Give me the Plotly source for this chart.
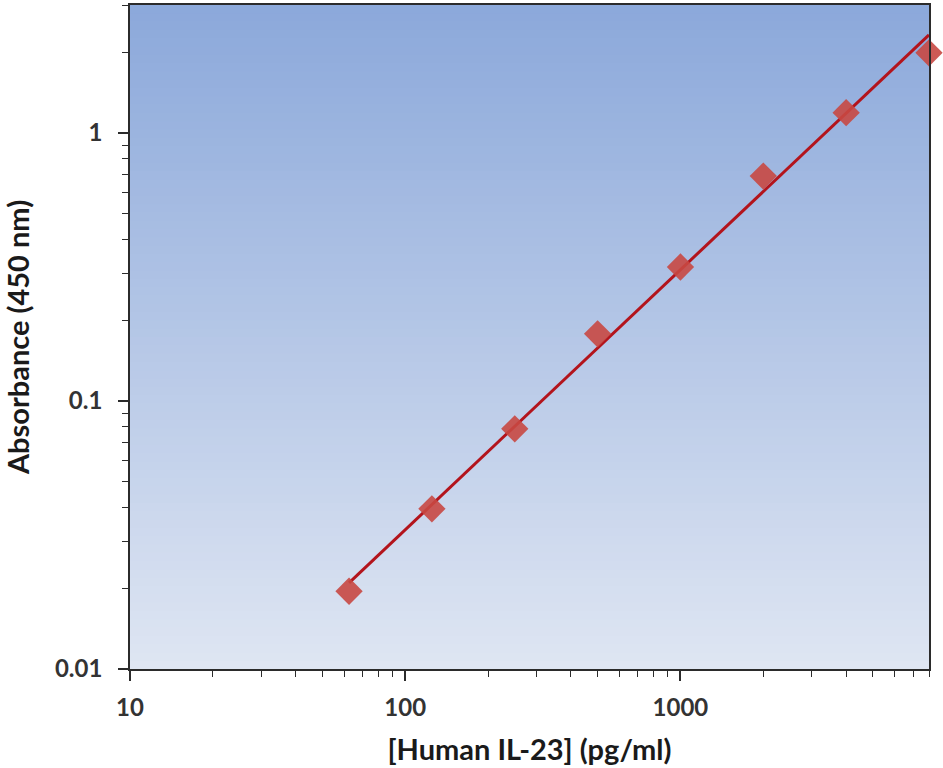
import numpy as np
import plotly.graph_objects as go

# Data
concentration = [62.5, 125, 250, 500, 1000, 2000, 4000, 8000]   # pg/ml
absorbance = [0.0195, 0.0396, 0.0787, 0.178, 0.316, 0.69, 1.19, 1.99]
x_tick_vals = [10, 100, 1000]
x_tick_text = ["10", "100", "1000"]
y_tick_vals = [0.01, 0.1, 1]
y_tick_text = ["0.01", "0.1", "1"]

# Power trendline (linear fit in log-log space) over data extent
lx = np.log10(concentration)
ly = np.log10(absorbance)
slope, intercept = np.polyfit(lx, ly, 1)
fit_x = np.logspace(lx.min(), lx.max(), 50)
fit_y = 10 ** (intercept + slope * np.log10(fit_x))

font_family = "Lato, 'Open Sans', sans-serif"

fig = go.Figure()
fig.add_trace(go.Scatter(
    x=fit_x, y=fit_y, mode="lines",
    line=dict(color="#b3141c", width=3),
    hoverinfo="skip", showlegend=False,
))
fig.add_trace(go.Scatter(
    x=concentration, y=absorbance, mode="markers",
    marker=dict(symbol="diamond", size=21, color="rgba(200,72,66,0.9)",
                line=dict(width=0)),
    cliponaxis=False, showlegend=False,
))

# Gradient background of plot area
n = 80
top = np.array([0x8c, 0xa9, 0xdb])
bot = np.array([0xdf, 0xe6, 0xf3])
shapes = []
for i in range(n):
    t = i / (n - 1)
    c = bot + (top - bot) * t
    shapes.append(dict(
        type="rect", xref="x domain", yref="y domain",
        x0=0, x1=1, y0=i / n, y1=(i + 1) / n + 0.002,
        fillcolor="rgb(%d,%d,%d)" % tuple(c.astype(int)),
        line=dict(width=0), layer="below",
    ))

axis_common = dict(
    type="log", showgrid=False, zeroline=False,
    showline=True, linecolor="#2b2b2b", linewidth=1.6, mirror=True,
    ticks="outside", ticklen=10, tickwidth=1.6, tickcolor="#2b2b2b",
    tickfont=dict(family=font_family, size=24, color="#333333", weight="bold"),
    minor=dict(ticks="outside", ticklen=6, tickwidth=1.4, tickcolor="#2b2b2b",
               dtick="D1", showgrid=False),
)

fig.update_layout(
    width=943, height=768,
    margin=dict(l=130, r=14, t=3, b=99),
    paper_bgcolor="white", plot_bgcolor="rgba(0,0,0,0)",
    shapes=shapes,
    xaxis=dict(
        **axis_common,
        range=[1, np.log10(8000)],
        tickvals=x_tick_vals, ticktext=x_tick_text,
        ticklabelstandoff=6,
        title=dict(text="[Human IL-23] (pg/ml)", standoff=20,
                   font=dict(family=font_family, size=29, color="#1a1a1a", weight="bold")),
    ),
    yaxis=dict(
        **axis_common,
        range=[-2, np.log10(3)],
        tickvals=y_tick_vals, ticktext=y_tick_text,
        ticklabelstandoff=11,
        title=dict(text="Absorbance (450 nm)", standoff=17,
                   font=dict(family=font_family, size=29, color="#1a1a1a", weight="bold")),
    ),
)

fig.write_html("out.html", config={"displayModeBar": False},
               post_script="document.body.style.margin='0px';")
